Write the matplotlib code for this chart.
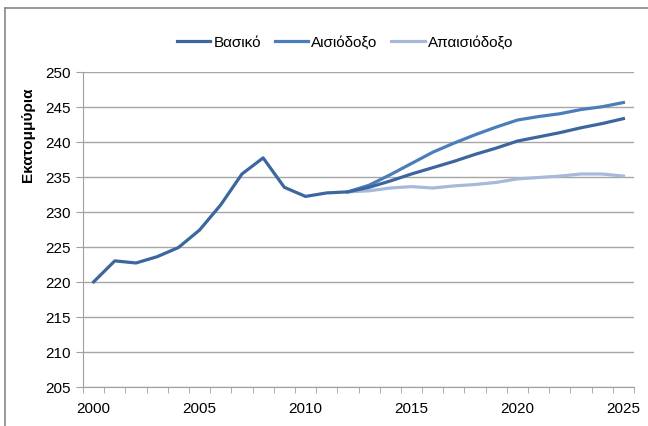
import numpy as np
import matplotlib.pyplot as plt

plt.rcParams['font.family'] = ['Liberation Sans', 'DejaVu Sans']

years = list(range(2000, 2026))
basiko = [220.0, 223.0, 222.7, 223.6, 224.9, 227.4, 231.0, 235.4, 237.7, 233.5,
          232.2, 232.7, 232.85, 233.5, 234.4, 235.4, 236.3, 237.2, 238.2, 239.1,
          240.1, 240.7, 241.3, 242.0, 242.6, 243.3]
aisiodoxo = [np.nan] * 12 + [232.85, 233.8, 235.3, 236.9, 238.5, 239.8, 241.0, 242.1,
                             243.1, 243.6, 244.0, 244.6, 245.0, 245.6]
apaisiodoxo = [np.nan] * 12 + [232.85, 233.0, 233.4, 233.6, 233.4, 233.7, 233.9, 234.2,
                               234.7, 234.9, 235.1, 235.4, 235.4, 235.1]

fig = plt.figure(figsize=(6.48, 4.27), dpi=100)
ax = fig.add_axes([83/648, 1 - 388/427, (634 - 83)/648, (388 - 72.7)/427])

ax.plot(years, basiko, color='#3B679E', linewidth=2.3, label='Βασικό', zorder=3)
ax.plot(years, aisiodoxo, color='#4A7EBB', linewidth=2.3, label='Αισιόδοξο', zorder=2)
ax.plot(years, apaisiodoxo, color='#A6B9DB', linewidth=2.3, label='Απαισιόδοξο', zorder=2)

ax.set_xlim(1999.5, 2025.5)
ax.set_ylim(205, 250)
ax.set_yticks(range(205, 251, 5))
ax.set_xticks(range(2000, 2026, 5))
ax.set_xticks(np.arange(1999.5, 2026, 1), minor=True)
ax.tick_params(axis='x', which='major', length=0, pad=10, labelsize=11)
ax.tick_params(axis='x', which='minor', length=4, color='#A0A0A0', direction='out')
ax.tick_params(axis='y', length=5, color='#A0A0A0', labelsize=11, pad=4)
ax.grid(axis='y', color='#A6A6A6', linewidth=1)
ax.set_axisbelow(True)
for side in ['top', 'right']:
    ax.spines[side].set_visible(False)
ax.spines['left'].set_color('#A0A0A0')
ax.spines['bottom'].set_color('#A0A0A0')

fig.text(28/648, 1 - 135/427, 'Εκατομμύρια', rotation=90, ha='center', va='center',
         fontsize=11, fontweight='bold')

fig.legend(loc='center', bbox_to_anchor=(345/648, 1 - 43/427), ncol=3, frameon=False,
           fontsize=11, handlelength=2.2, handletextpad=0.2, columnspacing=0.9)

fig.add_artist(plt.Line2D([5/648, 5/648], [0, 1 - 9/427], color='#888888', linewidth=1.2))
fig.add_artist(plt.Line2D([5/648, 1], [1 - 9/427, 1 - 9/427], color='#888888', linewidth=1.2))

fig.savefig('out.png', dpi=100)
